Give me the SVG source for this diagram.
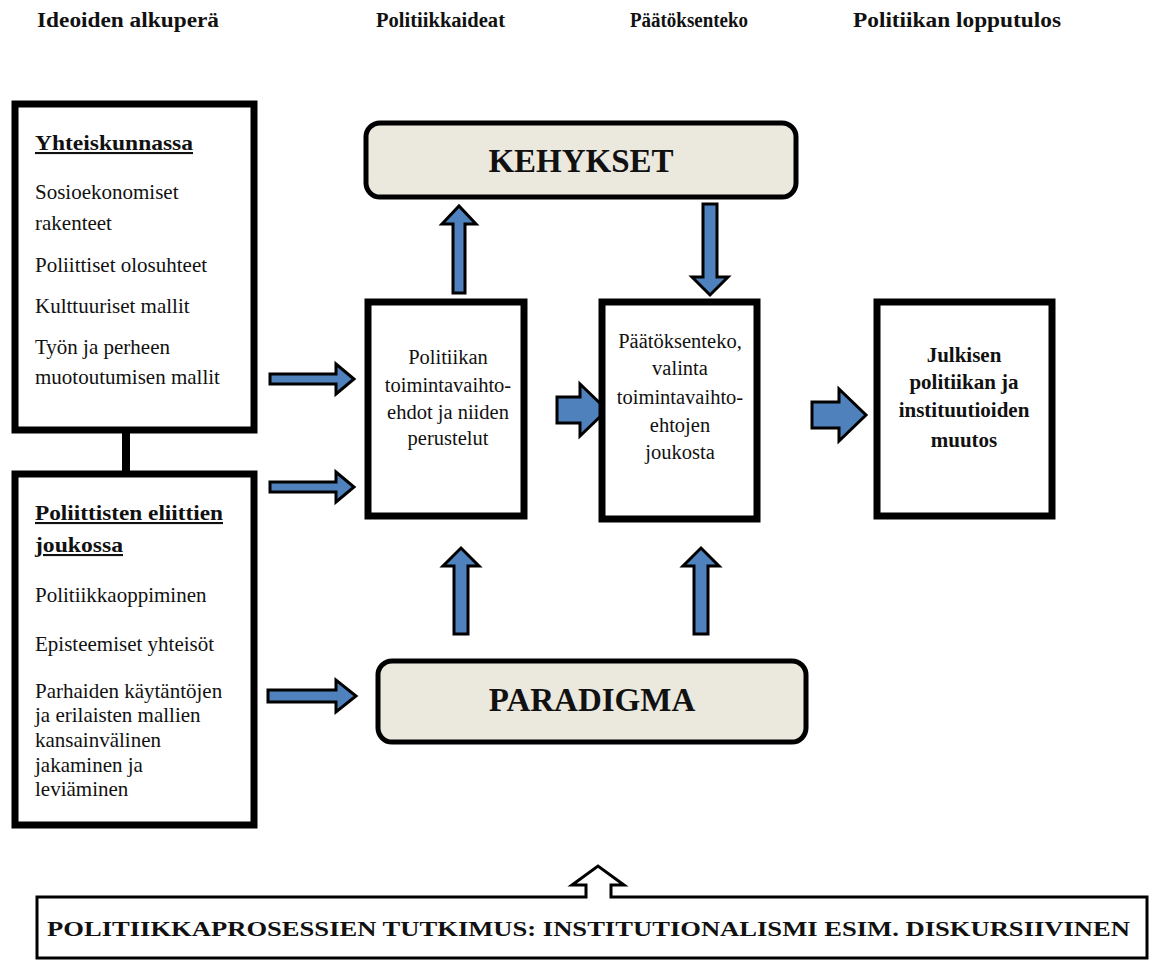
<svg xmlns="http://www.w3.org/2000/svg" width="1151" height="962" viewBox="0 0 1151 962">
  <style>
    text { font-family: "Liberation Serif", "Times New Roman", serif; fill: #111; }
    .hdr { font-size: 20px; font-weight: bold; }
    .lbl { font-size: 21px; }
    .ttl { font-size: 21px; font-weight: bold; text-decoration: underline; }
    .mid { font-size: 20.5px; text-anchor: middle; }
    .midb { font-size: 21px; font-weight: bold; text-anchor: middle; }
    .big { font-size: 33px; font-weight: bold; text-anchor: middle; }
    .box { fill: #fff; stroke: #000; stroke-width: 7; }
    .frame { fill: #EBE8DE; stroke: #000; stroke-width: 5; }
    .arr { fill: #4F81BD; stroke: #000; stroke-width: 3; stroke-linejoin: miter; }
    .link { stroke: #000; stroke-width: 8; }
  </style>

  <rect width="1151" height="962" fill="#fff"/>

  <!-- column headings -->
  <g id="headings">
    <text class="hdr" x="37" y="27" textLength="182" lengthAdjust="spacingAndGlyphs">Ideoiden alkuperä</text>
    <text class="hdr" x="376" y="27" textLength="129" lengthAdjust="spacingAndGlyphs">Politiikkaideat</text>
    <text class="hdr" x="630" y="27" textLength="118" lengthAdjust="spacingAndGlyphs">Päätöksenteko</text>
    <text class="hdr" x="853" y="27" textLength="208" lengthAdjust="spacingAndGlyphs">Politiikan lopputulos</text>
  </g>

  <!-- connectors -->
  <g id="connectors">
    <line class="link" x1="126" y1="430" x2="126" y2="474"/>
    <polygon class="arr" points="270,374 336,374 336,364 354,379 336,394 336,384 270,384"/>
    <polygon class="arr" points="270,482 336,482 336,472 354,487 336,502 336,492 270,492"/>
    <polygon class="arr" points="268,690 336,690 336,680 356,696 336,712 336,702 268,702"/>
    <polygon class="arr" points="557,397 580,397 580,384 607,410 580,436 580,423 557,423"/>
    <polygon class="arr" points="812,402 839,402 839,389 866,415 839,441 839,428 812,428"/>
    <polygon class="arr" points="453,293 453,224 442,224 459,206 476,224 465,224 465,293"/>
    <polygon class="arr" points="703,204 717,204 717,277 728,277 710,295 692,277 703,277"/>
    <polygon class="arr" points="454,634 454,566 443,566 461,548 479,566 468,566 468,634"/>
    <polygon class="arr" points="694,634 694,566 683,566 701,548 719,566 708,566 708,634"/>
  </g>

  <g id="yhteiskunnassa">
    <rect class="box" x="15" y="104" width="239" height="326"/>
    <text class="ttl" x="35" y="150" textLength="158" lengthAdjust="spacingAndGlyphs">Yhteiskunnassa</text>
    <text class="lbl" x="35" y="199">Sosioekonomiset</text>
    <text class="lbl" x="35" y="230">rakenteet</text>
    <text class="lbl" x="35" y="272">Poliittiset olosuhteet</text>
    <text class="lbl" x="35" y="313">Kulttuuriset mallit</text>
    <text class="lbl" x="35" y="354">Työn ja perheen</text>
    <text class="lbl" x="35" y="384">muotoutumisen mallit</text>
  </g>

  <g id="eliitit">
    <rect class="box" x="15" y="474" width="239" height="351"/>
    <text class="ttl" x="35" y="520" textLength="188" lengthAdjust="spacingAndGlyphs">Poliittisten eliittien</text>
    <text class="ttl" x="35" y="552" textLength="88" lengthAdjust="spacingAndGlyphs">joukossa</text>
    <text class="lbl" x="35" y="602">Politiikkaoppiminen</text>
    <text class="lbl" x="35" y="651">Episteemiset yhteisöt</text>
    <text class="lbl" x="35" y="698">Parhaiden käytäntöjen</text>
    <text class="lbl" x="35" y="722">ja erilaisten mallien</text>
    <text class="lbl" x="35" y="747">kansainvälinen</text>
    <text class="lbl" x="35" y="772">jakaminen ja</text>
    <text class="lbl" x="35" y="796">leviäminen</text>
  </g>

  <g id="kehykset">
    <rect class="frame" x="366" y="123" width="430" height="74" rx="14"/>
    <text class="big" x="581" y="172">KEHYKSET</text>
  </g>

  <g id="vaihtoehdot">
    <rect class="box" x="368" y="302" width="156" height="214"/>
    <text class="mid" x="448" y="364">Politiikan</text>
    <text class="mid" x="448" y="392">toimintavaihto-</text>
    <text class="mid" x="448" y="419">ehdot ja niiden</text>
    <text class="mid" x="448" y="445">perustelut</text>
  </g>

  <g id="paatoksenteko">
    <rect class="box" x="602" y="302" width="155" height="217"/>
    <text class="mid" x="680" y="348">Päätöksenteko,</text>
    <text class="mid" x="680" y="375">valinta</text>
    <text class="mid" x="680" y="404">toimintavaihto-</text>
    <text class="mid" x="680" y="432">ehtojen</text>
    <text class="mid" x="680" y="459">joukosta</text>
  </g>

  <g id="lopputulos">
    <rect class="box" x="877" y="302" width="175" height="214"/>
    <text class="midb" x="964" y="362">Julkisen</text>
    <text class="midb" x="964" y="389">politiikan ja</text>
    <text class="midb" x="964" y="417">instituutioiden</text>
    <text class="midb" x="964" y="447">muutos</text>
  </g>

  <g id="paradigma">
    <rect class="frame" x="378" y="661" width="428" height="81" rx="14"/>
    <text class="big" x="592" y="711">PARADIGMA</text>
  </g>

  <g id="tutkimus">
    <path d="M37,897 H586 V885 H572 L598,866 L624,885 H611 V897 H1147 V958 H37 Z" fill="#fff" stroke="#000" stroke-width="3" stroke-linejoin="miter"/>
    <text x="47" y="936" font-size="21" font-weight="bold" textLength="1083" lengthAdjust="spacingAndGlyphs">POLITIIKKAPROSESSIEN TUTKIMUS: INSTITUTIONALISMI ESIM. DISKURSIIVINEN</text>
  </g>
</svg>
